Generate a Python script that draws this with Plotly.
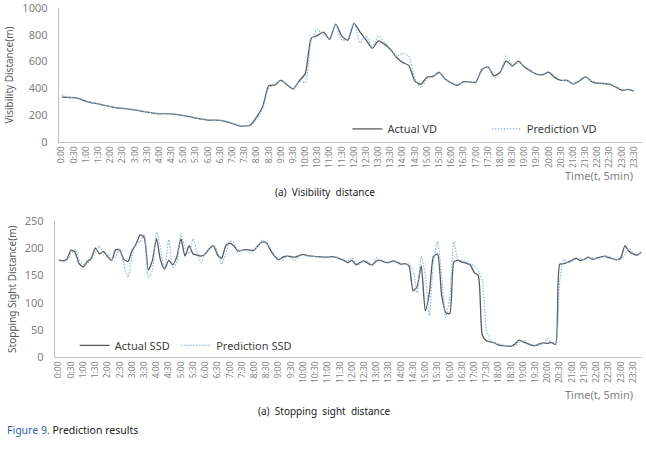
import plotly.graph_objects as go

# ---------------- data ----------------
vd_time = ["0:00","0:15","0:30","0:45","1:00","1:15","1:30","1:45","2:00","2:15","2:30","2:45",
           "3:00","3:15","3:30","3:45","4:00","4:15","4:30","4:45","5:00","5:15","5:30","5:45",
           "6:00","6:15","6:30","6:45","7:00","7:15","7:30","7:45","8:00","8:15","8:30","8:45",
           "9:00","9:15","9:30","9:45","10:00","10:15","10:30","10:45","11:00","11:15","11:30","11:45",
           "12:00","12:15","12:30","12:45","13:00","13:15","13:30","13:45","14:00","14:15","14:30","14:45",
           "15:00","15:15","15:30","15:45","16:00","16:15","16:30","16:45","17:00","17:15","17:30","17:45",
           "18:00","18:15","18:30","18:45","19:00","19:15","19:30","19:45","20:00","20:15","20:30","20:45",
           "21:00","21:15","21:30","21:45","22:00","22:15","22:30","22:45","23:00","23:15","23:30"]
vd_actual = [335,332,330,322,302,292,284,273,263,255,251,245,
             239,230,222,215,210,211,209,203,196,188,178,170,
             162,162,161,152,138,122,118,126,185,262,420,425,
             462,425,395,455,510,775,795,820,765,880,790,760,
             885,820,760,700,755,730,690,630,593,570,455,430,
             485,490,520,468,440,422,450,448,445,540,560,494,
             520,605,567,603,560,530,505,503,520,480,460,460,
             432,455,485,452,438,436,430,410,386,392,379]
vd_pred = [352,333,331,324,305,293,285,275,264,256,252,246,
           240,232,224,217,212,211,210,205,197,190,180,172,
           164,162,162,155,140,125,119,122,170,250,400,430,
           455,430,398,450,445,760,840,800,775,870,760,770,
           895,740,790,705,790,745,695,640,660,640,470,405,
           470,495,515,470,445,425,445,450,440,530,565,480,
           515,640,575,590,565,535,508,500,525,490,462,455,
           436,450,480,455,440,438,432,415,392,390,382]

ssd_time = [f"{h}:{m:02d}" for h in range(24) for m in (0, 10, 20, 30, 40, 50)]
ssd_actual = [179,177,180,197,193,172, 166,176,182,201,190,194, 185,178,198,197,180,176,
              196,208,225,220,160,178, 218,178,162,178,170,185, 218,186,205,190,188,186,
              190,200,205,188,182,205, 210,205,195,197,198,197, 197,206,212,210,197,186,
              179,184,186,185,184,187, 189,187,186,185,185,184, 184,185,184,181,178,174,
              178,170,174,177,172,170, 177,178,175,174,177,175, 171,172,168,122,130,168,
              85,118,185,190,115,82, 80,175,178,175,173,170, 156,150,40,30,28,26,
              22,21,20,20,24,31, 28,25,22,21,24,26, 25,27,23,171,172,175,
              178,182,178,180,184,180, 182,184,186,183,181,179, 183,205,195,190,188,193]
ssd_pred = [178,176,178,190,198,180, 170,172,180,192,205,188, 190,180,185,200,170,147,
            185,210,212,226,147,160, 230,200,160,216,165,175, 228,200,190,218,192,174,
            192,198,206,195,171,190, 214,210,197,196,197,192, 198,204,216,208,200,188,
            182,180,186,183,178,186, 188,186,186,185,184,183, 184,184,185,182,180,176,
            183,172,172,178,175,170, 183,177,176,175,175,176, 173,171,171,160,118,185,
            150,76,175,213,150,73, 110,213,180,178,176,172, 168,160,140,50,30,26,
            24,22,20,21,20,27, 30,26,23,22,22,26, 34,26,25,140,180,173,
            177,180,182,179,182,183, 181,183,185,186,182,180, 180,189,200,192,189,191]

tick_labels = [f"{h}:{m:02d}" for h in range(24) for m in (0, 30)]


def to_min(s):
    h, m = s.split(":")
    return int(h) * 60 + int(m)


tick_vals = [to_min(s) for s in tick_labels]

W, H = 646, 451
ACT = "#595959"
PRED = "#8DB8E2"
GRAY = "#7f7f7f"
FONT = "Noto Sans"
SM = 0.6

fig = go.Figure()
fig.add_trace(go.Scatter(x=[to_min(s) for s in vd_time], y=vd_actual, mode="lines",
                         name="Actual VD", line=dict(color=ACT, width=1.3, shape="spline", smoothing=SM),
                         xaxis="x", yaxis="y", legend="legend"))
fig.add_trace(go.Scatter(x=[to_min(s) for s in vd_time], y=vd_pred, mode="lines",
                         name="Prediction VD",
                         line=dict(color=PRED, width=1.2, dash="1.5px,1.5px", shape="spline", smoothing=SM),
                         xaxis="x", yaxis="y", legend="legend2"))
fig.add_trace(go.Scatter(x=[to_min(s) for s in ssd_time], y=ssd_actual, mode="lines",
                         name="Actual SSD", line=dict(color=ACT, width=1.3, shape="spline", smoothing=SM),
                         xaxis="x2", yaxis="y2", legend="legend3"))
fig.add_trace(go.Scatter(x=[to_min(s) for s in ssd_time], y=ssd_pred, mode="lines",
                         name="Prediction SSD",
                         line=dict(color=PRED, width=1.2, dash="1.5px,1.5px", shape="spline", smoothing=SM),
                         xaxis="x2", yaxis="y2", legend="legend4"))

xcommon = dict(tickmode="array", tickvals=tick_vals, ticktext=tick_labels, tickangle=-90,
               showgrid=False, zeroline=False, showline=True, linecolor="#bfbfbf", linewidth=1,
               ticks="", tickfont=dict(family=FONT, size=8.5, color=GRAY))
ycommon = dict(showgrid=False, zeroline=False, showline=True, linecolor="#bfbfbf", linewidth=1,
               ticks="", ticklabelstandoff=8, tickfont=dict(family=FONT, size=11, color=GRAY))


def leg(xpx, ypx):
    return dict(orientation="h", x=xpx / W, y=1 - ypx / H, xanchor="left", yanchor="middle",
                bgcolor="rgba(0,0,0,0)", font=dict(family=FONT, size=11, color="#404040"),
                itemwidth=30)


fig.update_layout(
    width=W, height=H, margin=dict(l=0, r=0, t=0, b=0),
    paper_bgcolor="white", plot_bgcolor="white",
    xaxis=dict(domain=[56 / W, 642 / W], range=[-7.4, 1429.6], anchor="y", **xcommon),
    yaxis=dict(domain=[1 - 138.5 / H, 1], range=[0, 1000], tickvals=[0, 200, 400, 600, 800, 1000],
               anchor="x", ticklabeloverflow="allow",
               title=dict(text="Visibility Distance(m)", font=dict(family=FONT, size=10, color=ACT),
                          standoff=6), **ycommon),
    xaxis2=dict(domain=[52 / W, 642 / W], range=[-9.7, 1432], anchor="y2", **xcommon),
    yaxis2=dict(domain=[1 - 361 / H, 1 - 220.7 / H], range=[0, 250],
                tickvals=[0, 50, 100, 150, 200, 250], anchor="x2",
                title=dict(text="Stopping Sight Distance(m)", font=dict(family=FONT, size=10, color=ACT),
                           standoff=6), **ycommon),
    legend=leg(346, 125),
    legend2=leg(486, 125),
    legend3=leg(72, 349),
    legend4=leg(174, 349),
    showlegend=True,
)

ann = [
    dict(text="Time(t, 5min)", x=635 / W, y=1 - 173 / H, xanchor="right", yanchor="middle",
         font=dict(family=FONT, size=11, color=GRAY)),
    dict(text="(a)  Visibility  distance", x=323 / W, y=1 - 190 / H, xanchor="center", yanchor="middle",
         font=dict(family=FONT, size=10, color="#222222")),
    dict(text="Time(t, 5min)", x=635 / W, y=1 - 400 / H, xanchor="right", yanchor="middle",
         font=dict(family=FONT, size=11, color=GRAY)),
    dict(text="(a)  Stopping  sight  distance", x=323 / W, y=1 - 417 / H, xanchor="center",
         yanchor="middle", font=dict(family=FONT, size=10, color="#222222")),
    dict(text="<span style='color:#2E5FAA'>Figure 9.</span> Prediction results", x=2 / W,
         y=1 - 437 / H, xanchor="left", yanchor="middle",
         font=dict(family=FONT, size=10.5, color="#222222")),
]
for a in ann:
    fig.add_annotation(xref="paper", yref="paper", showarrow=False, **a)

fig.write_html("out.html")
